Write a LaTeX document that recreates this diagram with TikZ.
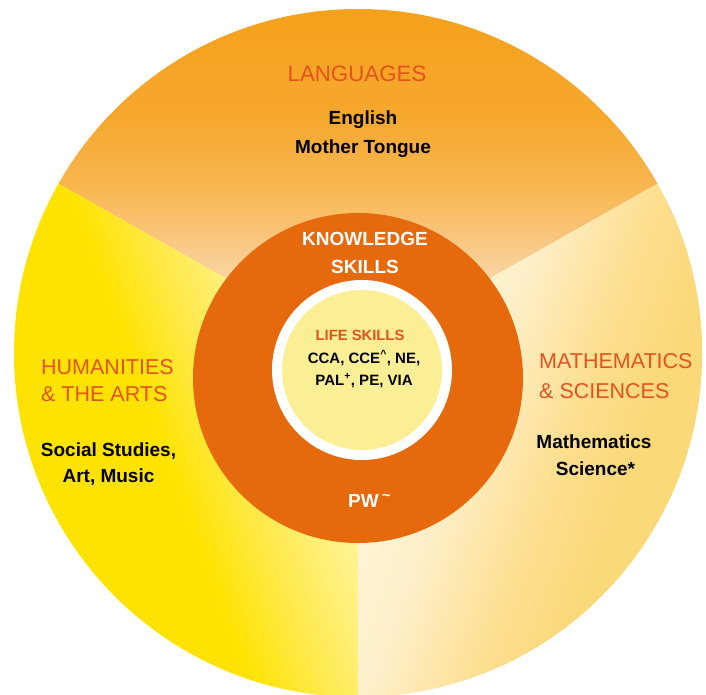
\documentclass[tikz,border=0pt]{standalone}
\usepackage{fontspec}
\setmainfont{Liberation Sans}
\definecolor{ringorange}{HTML}{E6690C}
\definecolor{titlered}{HTML}{E4531F}
\definecolor{coreyellow}{HTML}{FCEE95}
\definecolor{lang0}{HTML}{F5A01A}
\definecolor{lang1}{HTML}{F6A82E}
\definecolor{lang2}{HTML}{F8B752}
\definecolor{lang3}{HTML}{FACB8C}
\definecolor{lang4}{HTML}{FDE6C4}
\definecolor{hum0}{HTML}{FFE300}
\definecolor{hum1}{HTML}{FFE94A}
\definecolor{hum2}{HTML}{FFF07A}
\definecolor{hum3}{HTML}{FFF6A8}
\definecolor{hum4}{HTML}{FFF9C0}
\definecolor{math0}{HTML}{FFF8E2}
\definecolor{math1}{HTML}{FFF4D8}
\definecolor{math2}{HTML}{FEEFC8}
\definecolor{math3}{HTML}{FCDE8E}
\definecolor{math4}{HTML}{FBD878}
\pgfdeclareverticalshading{langshade}{100bp}{color(0bp)=(lang4); color(31bp)=(lang4); color(40bp)=(lang3); color(48.5bp)=(lang2); color(58.5bp)=(lang1); color(75bp)=(lang0); color(100bp)=(lang0)}
% strips across u = #1 .. #2 (relative to the centre x = 358), colour #3 -> #4, #5 steps
\newcommand{\gradstrips}[5]{%
  \foreach \k in {1,...,#5}{%
    \pgfmathsetmacro{\ua}{#1+(#2-#1)*(\k-1)/#5}%
    \pgfmathsetmacro{\ub}{#1+(#2-#1)*\k/#5+0.8}%
    \pgfmathsetmacro{\pc}{100*(\k-0.5)/#5}%
    \fill[#4!\pc!#3] (358+\ua,-160) rectangle (358+\ub,870);
  }}
\tikzset{
  titletext/.style={font=\fontsize{21.5}{24}\selectfont, text=titlered, inner sep=0pt},
  subjtext/.style={font=\bfseries\fontsize{19}{22}\selectfont, text=black, inner sep=0pt},
  ringtext/.style={font=\bfseries\fontsize{19}{22}\selectfont, text=white, inner sep=0pt},
  coretitle/.style={font=\bfseries\fontsize{14.8}{17}\selectfont, text=titlered, inner sep=0pt},
  coretext/.style={font=\bfseries\fontsize{15}{17}\selectfont, text=black, inner sep=0pt},
}
\begin{document}
\begin{tikzpicture}[x=1pt,y=-1pt]
\useasboundingbox (0,0) rectangle (706,694);
\fill[white] (0,0) rectangle (706,694);
\coordinate (O) at (358,353);
\coordinate (L) at (-512,-139);
\coordinate (R) at (1228,-139);
% Languages sector
\begin{scope}
  \clip (O) circle (344);
  \clip (O) -- (L) -- (-512,-1000) -- (1228,-1000) -- (R) -- cycle;
  \shade[shading=langshade] (0,0) rectangle (706,360);
\end{scope}
% Humanities sector
\begin{scope}
  \clip (O) circle (344);
  \clip (O) -- (L) -- (-512,1500) -- (358,1500) -- cycle;
  \begin{scope}[rotate around={20:(O)}]
    \fill[hum0] (-160,-160) rectangle (143,870);
    \gradstrips{-216}{-150}{hum0}{hum1}{33}
    \gradstrips{-150}{-100}{hum1}{hum2}{25}
    \gradstrips{-100}{-40}{hum2}{hum3}{30}
    \gradstrips{-40}{100}{hum3}{hum4}{35}
  \end{scope}
\end{scope}
% Mathematics sector
\begin{scope}
  \clip (O) circle (344);
  \clip (O) -- (358,1500) -- (1228,1500) -- (R) -- cycle;
  \begin{scope}[rotate around={-20:(O)}]
    \fill[math4] (600,-160) rectangle (900,870);
    \gradstrips{-100}{60}{math0}{math1}{40}
    \gradstrips{60}{130}{math1}{math2}{35}
    \gradstrips{130}{230}{math2}{math3}{50}
    \gradstrips{230}{300}{math3}{math4}{35}
    \fill[math4] (657.5,-160) rectangle (900,870);
  \end{scope}
\end{scope}
% rings
\fill[ringorange] (358,378) circle (165);
\fill[white] (362,370) circle (90);
\fill[coreyellow] (362,370) circle (80);
% texts
\node[titletext, font=\fontsize{22.3}{24}\selectfont, anchor=base] (lang) at (357,81) {LANGUAGES};
\node[subjtext, anchor=base] (eng) at (363,124) {English};
\node[subjtext, anchor=base] (mt) at (363,153) {Mother Tongue};
\node[ringtext, anchor=base] (know) at (365,245) {KNOWLEDGE};
\node[ringtext, anchor=base] (skills) at (365,273) {SKILLS};
\node[coretitle, anchor=base] (life) at (360,340) {LIFE SKILLS};
\node[coretext, anchor=base] (cca) at (364,363) {CCA, CCE\textsuperscript{\textasciicircum}, NE,};
\node[coretext, anchor=base] (pal) at (364,385) {PAL\textsuperscript{+}, PE, VIA};
\node[ringtext, anchor=base west] (pw) at (348,507) {PW\,\raisebox{7pt}{\fontsize{15}{15}\selectfont\textasciitilde}};
\node[titletext, anchor=base west] (hum1) at (41,374) {HUMANITIES};
\node[titletext, anchor=base west] (hum2) at (41,401) {\& THE ARTS};
\node[subjtext, anchor=base] (ss) at (108.5,456) {Social Studies,};
\node[subjtext, anchor=base] (am) at (108.5,482) {Art, Music};
\node[titletext, anchor=base west] (ms1) at (539,368) {MATHEMATICS};
\node[titletext, anchor=base west] (ms2) at (539,398) {\& SCIENCES};
\node[subjtext, anchor=base] (math) at (594,448) {Mathematics};
\node[subjtext, anchor=base] (sci) at (595.5,475) {Science*};
\end{tikzpicture}
\end{document}
